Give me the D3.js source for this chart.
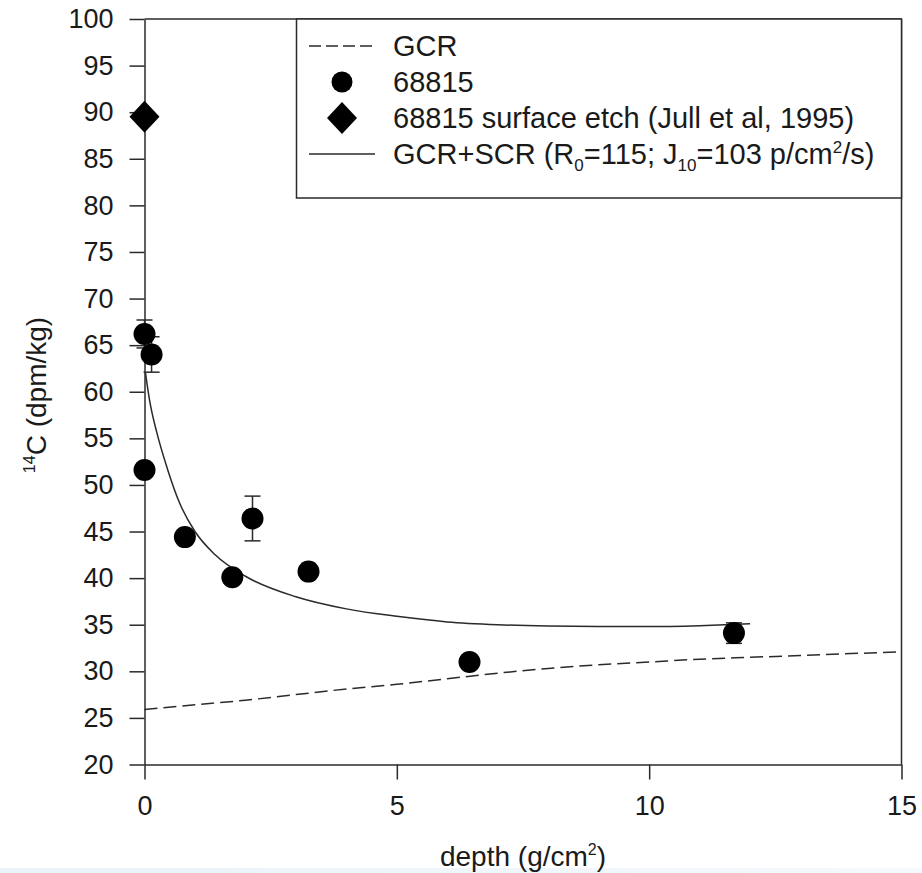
<!DOCTYPE html>
<html>
<head>
<meta charset="utf-8">
<script src="https://cdn.jsdelivr.net/npm/d3@7"></script>
<style>
  html, body { margin: 0; padding: 0; background: #fff; }
  svg { display: block; }
  text { font-family: Arial, "Liberation Sans", sans-serif; fill: #1a1a1a; }
</style>
</head>
<body>
<svg id="chart" width="922" height="873"></svg>
<script>
// ---- data ----
const xTicks = [0, 5, 10, 15];
const yTicks = [20, 25, 30, 35, 40, 45, 50, 55, 60, 65, 70, 75, 80, 85, 90, 95, 100];

const gcrDepth = [0, 1, 2, 3, 4, 5, 6, 7, 8, 9, 10, 11, 12, 13, 14, 15];
const gcrValue = [25.9, 26.4, 26.9, 27.5, 28.1, 28.6, 29.2, 29.8, 30.3, 30.7, 31.0, 31.3, 31.5, 31.7, 31.9, 32.1];

const scrDepth = [0.02, 0.1, 0.25, 0.45, 0.7, 1.0, 1.4, 2.0, 3.0, 4.0, 5.0, 6.0, 7.0, 8.0, 9.0, 10.0, 11.0, 12.0];
const scrValue = [62.0, 59.1, 55.5, 51.8, 48.0, 45.0, 42.5, 40.2, 38.0, 36.7, 35.9, 35.3, 35.0, 34.85, 34.8, 34.8, 34.9, 35.1];

const sampleDepth = [0, 0.14, 0, 0.8, 1.74, 2.14, 3.25, 6.44, 11.68];
const sampleValue = [66.2, 64.0, 51.6, 44.4, 40.1, 46.4, 40.7, 31.0, 34.1];
const sampleError = [1.5, 1.9, 0.6, 0.5, 0.4, 2.4, 0.5, 0.4, 1.1];

const etchDepth = [0];
const etchValue = [89.5];

const legendLabels = ["GCR", "68815", "68815 surface etch (Jull et al, 1995)", "GCR+SCR"];

// ---- layout ----
const svg = d3.select("#chart");
const mLeft = 144.5, mRight = 901.5, mTop = 19, mBottom = 764.5;
const x = d3.scaleLinear().domain([0, 15]).range([mLeft, mRight]);
const y = d3.scaleLinear().domain([20, 100]).range([mBottom, mTop]);
const ink = "#2a2a2a";
const FS = 27;     // tick labels
const LFS = 29;    // legend & titles

// light band at the very bottom (as in the reference photo)
const grad = svg.append("defs").append("linearGradient").attr("id", "band").attr("x1", 0).attr("x2", 1);
grad.append("stop").attr("offset", 0).attr("stop-color", "#eaf3fa");
grad.append("stop").attr("offset", 1).attr("stop-color", "#f4f9fd");
svg.append("rect").attr("x", 0).attr("y", 868).attr("width", 922).attr("height", 5).attr("fill", "url(#band)");

// frame (top & right)
svg.append("line").attr("x1", mLeft).attr("x2", mRight).attr("y1", mTop).attr("y2", mTop)
  .attr("stroke", ink).attr("stroke-width", 1.5);
svg.append("line").attr("x1", mRight).attr("x2", mRight).attr("y1", mTop).attr("y2", mBottom)
  .attr("stroke", ink).attr("stroke-width", 1.5);

// axes
const xAxis = d3.axisBottom(x).tickValues(xTicks).tickSize(15).tickPadding(16).tickSizeOuter(0);
const gx = svg.append("g").attr("transform", `translate(0,${mBottom})`).call(xAxis);
gx.select(".domain").attr("stroke", ink).attr("stroke-width", 1.5);
gx.selectAll(".tick line").attr("stroke", ink).attr("stroke-width", 1.5);
gx.selectAll(".tick text").attr("font-size", FS).attr("font-family", "Arial, 'Liberation Sans', sans-serif").attr("fill", "#1a1a1a");

const yAxis = d3.axisLeft(y).tickValues(yTicks).tickSize(15).tickPadding(16).tickSizeOuter(0);
const gy = svg.append("g").attr("transform", `translate(${mLeft},0)`).call(yAxis);
gy.select(".domain").attr("stroke", ink).attr("stroke-width", 1.5);
gy.selectAll(".tick line").attr("stroke", ink).attr("stroke-width", 1.5);
gy.selectAll(".tick text").attr("font-size", FS).attr("font-family", "Arial, 'Liberation Sans', sans-serif").attr("fill", "#1a1a1a");

// curves
const gcrData = gcrDepth.map((d, i) => [d, gcrValue[i]]);
const scrData = scrDepth.map((d, i) => [d, scrValue[i]]);
const line = d3.line().x(d => x(d[0])).y(d => y(d[1])).curve(d3.curveMonotoneX);

svg.append("path").datum(gcrData).attr("d", line).attr("fill", "none")
  .attr("stroke", ink).attr("stroke-width", 1.5).attr("stroke-dasharray", "13,6");
svg.append("path").datum(scrData).attr("d", line).attr("fill", "none")
  .attr("stroke", ink).attr("stroke-width", 1.5);

// error bars
const samples = sampleDepth.map((d, i) => ({ x: d, y: sampleValue[i], e: sampleError[i] }));
const eb = svg.append("g").attr("stroke", ink).attr("stroke-width", 1.5);
samples.forEach(s => {
  const cx = x(s.x);
  eb.append("line").attr("x1", cx).attr("x2", cx).attr("y1", y(s.y - s.e)).attr("y2", y(s.y + s.e));
  eb.append("line").attr("x1", cx - 8).attr("x2", cx + 8).attr("y1", y(s.y - s.e)).attr("y2", y(s.y - s.e));
  eb.append("line").attr("x1", cx - 8).attr("x2", cx + 8).attr("y1", y(s.y + s.e)).attr("y2", y(s.y + s.e));
});

// points
svg.append("g").selectAll("circle").data(samples).join("circle")
  .attr("cx", d => x(d.x)).attr("cy", d => y(d.y)).attr("r", 11).attr("fill", "#000");

const diamond = (cx, cy, w, h) => `M${cx},${cy - h}L${cx + w},${cy}L${cx},${cy + h}L${cx - w},${cy}Z`;
svg.append("g").selectAll("path").data(etchDepth.map((d, i) => [d, etchValue[i]])).join("path")
  .attr("d", d => diamond(x(d[0]), y(d[1]), 15, 16)).attr("fill", "#000");

// legend box
const lg = svg.append("g");
lg.append("rect").attr("x", 296.5).attr("y", mTop).attr("width", mRight - 296.5).attr("height", 198 - mTop)
  .attr("fill", "#fff").attr("stroke", ink).attr("stroke-width", 1.5);
const rows = [46, 82, 118, 154];
const sx1 = 309, sx2 = 375, tx = 393;
lg.append("line").attr("x1", sx1).attr("x2", sx2).attr("y1", rows[0]).attr("y2", rows[0])
  .attr("stroke", ink).attr("stroke-width", 1.5).attr("stroke-dasharray", "12,5");
lg.append("circle").attr("cx", 342).attr("cy", rows[1]).attr("r", 10.5).attr("fill", "#000");
lg.append("path").attr("d", diamond(342, rows[2], 15, 16)).attr("fill", "#000");
lg.append("line").attr("x1", sx1).attr("x2", sx2).attr("y1", rows[3]).attr("y2", rows[3])
  .attr("stroke", ink).attr("stroke-width", 1.5);

[0, 1, 2].forEach(i => {
  lg.append("text").attr("x", tx).attr("y", rows[i]).attr("dy", "0.35em").attr("font-size", LFS)
    .text(legendLabels[i]);
});
const t4 = lg.append("text").attr("x", tx).attr("y", rows[3]).attr("dy", "0.35em").attr("font-size", LFS);
t4.append("tspan").text(legendLabels[3] + " (R");
t4.append("tspan").attr("font-size", 17).attr("dy", 7).text("0");
t4.append("tspan").attr("dy", -7).text("=115; J");
t4.append("tspan").attr("font-size", 17).attr("dy", 7).text("10");
t4.append("tspan").attr("dy", -7).text("=103 p/cm");
t4.append("tspan").attr("font-size", 17).attr("dy", -11).text("2");
t4.append("tspan").attr("dy", 11).text("/s)");

// y axis title
const yt = svg.append("text").attr("transform", `translate(46,395) rotate(-90)`)
  .attr("text-anchor", "middle").attr("font-size", 28);
yt.append("tspan").attr("font-size", 16).attr("dy", -11).text("14");
yt.append("tspan").attr("dy", 11).text("C (dpm/kg)");

// x axis title
const xt = svg.append("text").attr("x", (mLeft + mRight) / 2).attr("y", 866)
  .attr("text-anchor", "middle").attr("font-size", 28);
xt.append("tspan").text("depth (g/cm");
xt.append("tspan").attr("font-size", 16).attr("dy", -11).text("2");
xt.append("tspan").attr("dy", 11).text(")");
</script>
</body>
</html>
